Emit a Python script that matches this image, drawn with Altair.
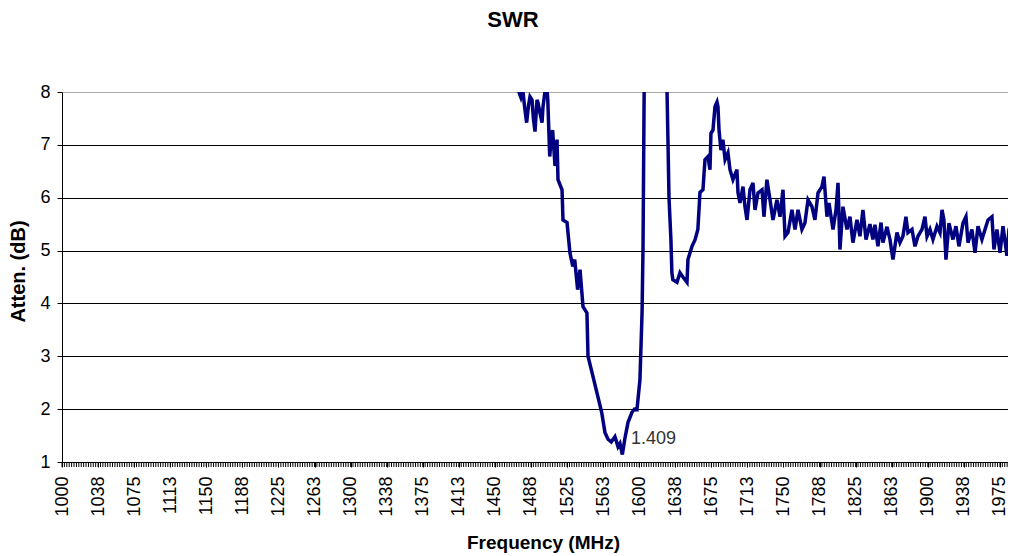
import altair as alt
import pandas as pd

# ---- data ----
freq = [1472, 1475, 1477, 1479, 1481, 1483, 1485, 1486.5, 1488.6, 1490, 1491.7, 1493.8, 1494.8,
        1496.9, 1499, 1500, 1502, 1504.2, 1505, 1507, 1508.5, 1510, 1512.5, 1514.6, 1515.6,
        1519.8, 1520.8, 1525, 1528, 1531, 1533, 1536, 1538.5, 1541.6, 1545.7, 1546.8, 1551,
        1557, 1561, 1564.4, 1567.6, 1571, 1574.8, 1578, 1580, 1582.5, 1585, 1588.4, 1592.5,
        1595, 1597.7, 1600.8, 1603, 1604, 1604.5, 1605, 1607, 1626, 1628.9, 1629.9, 1631,
        1633, 1634, 1635, 1639.3, 1642.4, 1645.5, 1649.7, 1650.7, 1654.9, 1658, 1661, 1663.2,
        1666.3, 1668.4, 1671.5, 1673.6, 1674.6, 1676.7, 1678.8, 1680.9, 1681.9, 1683, 1685,
        1687, 1689.3, 1692.3, 1694.4, 1697.5, 1701.6, 1702.7, 1704.8, 1707.9, 1710, 1712.1,
        1715.2, 1718.3, 1720.4, 1723.5, 1727.7, 1729.7, 1732.8, 1736, 1739.1, 1743.2, 1746.4,
        1749.5, 1751.6, 1754.7, 1758.8, 1762, 1765.1, 1769.2, 1772.3, 1775.5, 1779.6, 1782.7,
        1785.9, 1790, 1792.1, 1795.2, 1797.3, 1801.5, 1804.6, 1806.7, 1808.7, 1811.8, 1816,
        1819.1, 1822.2, 1826.4, 1829.5, 1832.6, 1835.8, 1839.9, 1843, 1845.1, 1848.2, 1851.4,
        1853.4, 1857.6, 1860.7, 1863.8, 1868, 1871.1, 1874.2, 1877.3, 1879.4, 1883.6, 1886.7,
        1889.8, 1894, 1897.1, 1899.2, 1902.3, 1905.4, 1909.6, 1912.7, 1914.8, 1916.8, 1918.9,
        1922, 1926.2, 1929.3, 1932.4, 1936.6, 1939.7, 1941.8, 1945.9, 1949.1, 1952.2, 1956.3,
        1959.5, 1962.6, 1966.7, 1968.8, 1971.9, 1975.1, 1978.2, 1982.3, 1984.4, 1987.5,
        1989.6, 1990.6, 1992.5]
atten = [8.4, 8.0, 7.9, 8.04, 7.7, 7.42, 7.75, 7.91, 7.85, 7.5, 7.25, 7.85, 7.8,
         7.6, 7.42, 7.72, 8.0, 8.04, 7.85, 6.78, 7.1, 7.28, 6.6, 7.1, 6.34,
         6.15, 5.58, 5.53, 4.96, 4.7, 4.83, 4.26, 4.64, 3.94, 3.82, 3.0, 2.69,
         2.24, 1.94, 1.56, 1.43, 1.38, 1.48, 1.29, 1.35, 1.14, 1.43, 1.75, 1.94,
         2.0, 1.99, 2.56, 3.83, 5.07, 6.34, 7.6, 12.0, 12.0, 8.05, 7.1, 6.0,
         5.2, 4.58, 4.45, 4.4, 4.58, 4.5, 4.4, 4.83, 5.08, 5.2, 5.4, 6.1,
         6.15, 6.72, 6.78, 6.53, 7.22, 7.28, 7.72, 7.81, 7.72, 7.28, 6.9,
         7.1, 6.72, 6.85, 6.53, 6.34, 6.53, 6.1, 5.9, 6.21, 5.83, 5.58,
         6.15, 6.28, 5.77, 6.09, 6.15, 5.64, 6.34, 5.96, 5.58, 5.96, 5.64,
         6.15, 5.27, 5.34, 5.77, 5.4, 5.77, 5.4, 5.52, 5.96, 5.83, 5.58,
         6.09, 6.21, 6.4, 5.64, 5.9, 5.4, 5.77, 6.28, 5.02, 5.83, 5.4,
         5.64, 5.15, 5.58, 5.27, 5.77, 5.21, 5.5, 5.21, 5.49, 5.08, 5.53,
         5.15, 5.45, 5.21, 4.83, 5.34, 5.15, 5.27, 5.64, 5.34, 5.4, 5.08,
         5.27, 5.4, 5.64, 5.27, 5.4, 5.21, 5.46, 5.34, 5.77, 5.58, 4.83,
         5.52, 5.21, 5.46, 5.08, 5.52, 5.64, 5.15, 5.4, 4.96, 5.46, 5.21,
         5.4, 5.58, 5.64, 5.02, 5.4, 4.96, 5.46, 4.9, 5.4, 5.53,
         5.21, 4.58, 4.9]

x_tick_values = [1000 + 37.5 * i for i in range(27)]
x_tick_labels = ["1000", "1038", "1075", "1113", "1150", "1188", "1225", "1263", "1300",
                 "1338", "1375", "1413", "1450", "1488", "1525", "1563", "1600", "1638",
                 "1675", "1713", "1750", "1788", "1825", "1863", "1900", "1938", "1975"]
y_tick_values = [1, 2, 3, 4, 5, 6, 7, 8]
minor_ticks = [1000 + 2.5 * i for i in range(394)]

ann_freq = [1591.5]
ann_val = [1.44]
ann_text = ["1.409"]

FONT = "Liberation Sans"
X_DOMAIN = [1000, 1983.4]
Y_DOMAIN = [1, 8]
PLOT_W, PLOT_H = 946, 370

df = pd.DataFrame({"freq": freq, "atten": atten})
ticks_df = pd.DataFrame({"freq": minor_ticks})
ann_df = pd.DataFrame({"freq": ann_freq, "atten": ann_val, "label": ann_text})

label_arr = "[" + ",".join("'%s'" % s for s in x_tick_labels) + "]"

x_axis = alt.Axis(
    values=x_tick_values,
    labelExpr=label_arr + "[round((datum.value - 1000) / 37.5)]",
    labelAngle=270, labelFont=FONT, labelFontSize=18, labelColor="black",
    labelPadding=9, tickSize=5, tickColor="black", domainColor="black",
    grid=False, labelOverlap=False,
    title="Frequency (MHz)", titleFont=FONT, titleFontSize=19, titleFontWeight="bold",
    titleColor="black", titleX=481, titleY=86, titleAlign="center",
    titleBaseline="alphabetic",
)
y_axis = alt.Axis(
    values=y_tick_values, labelFont=FONT, labelFontSize=18, labelColor="black",
    labelPadding=7, tickSize=5, tickColor="black", domainColor="black",
    grid=True,
    gridColor={"condition": {"test": "datum.value === 8", "value": "#a8a8a8"}, "value": "black"},
    gridOpacity=1, gridWidth=1,
    title="Atten. (dB)", titleFont=FONT, titleFontSize=20, titleFontWeight="bold",
    titleColor="black", titleAngle=270, titleX=-38, titleY=179, titleAlign="center",
    titleBaseline="alphabetic",
)

X = alt.X("freq:Q", scale=alt.Scale(domain=X_DOMAIN, nice=False, zero=False), axis=x_axis)
Y = alt.Y("atten:Q", scale=alt.Scale(domain=Y_DOMAIN, nice=False, zero=False), axis=y_axis)

line = alt.Chart(df).mark_line(color="#000080", strokeWidth=3.5, clip=True).encode(x=X, y=Y)

minor = alt.Chart(ticks_df).mark_rule(color="black", strokeWidth=1).encode(
    x=X,
    y=alt.value(PLOT_H),
    y2=alt.value(PLOT_H + 5),
)

ann = alt.Chart(ann_df).mark_text(
    align="left", baseline="middle", font=FONT, fontSize=18, color="#333333"
).encode(x=X, y=Y, text="label:N")

chart = alt.layer(line, minor, ann).properties(
    width=PLOT_W, height=PLOT_H,
    autosize=alt.AutoSizeParams(type="none"),
    padding={"left": 54, "top": 84, "right": 0, "bottom": 92},
    title=alt.Title("SWR", font=FONT, fontSize=22, fontWeight="bold", color="black",
                    anchor="middle", dx=-22, offset=51),
).configure_view(stroke=None)

chart.save("out.html", embed_options={"renderer": "svg", "actions": False})
